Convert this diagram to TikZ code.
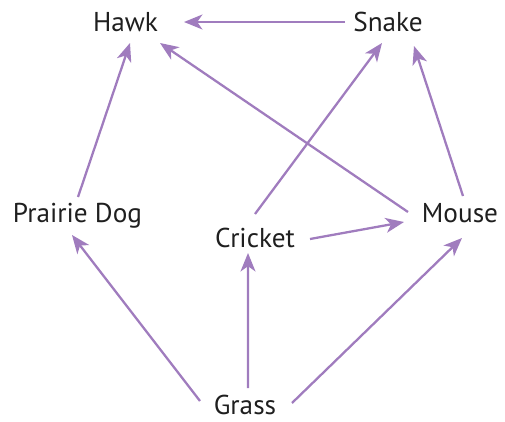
\documentclass[tikz,border=0pt]{standalone}
\usepackage{fontspec}
\setmainfont{PT Sans}
\usetikzlibrary{calc, arrows.meta, positioning}
\definecolor{foodweb}{HTML}{A07CBE}
\begin{document}
\begin{tikzpicture}[
    animal/.style={
      inner sep=0pt,
      text height=0.38cm,
      text depth=0pt,
      text=black!88,
      font=\fontsize{15.5}{18}\selectfont
    },
    arrow/.style={
      -{Stealth[length=10.5pt, width=8.5pt, inset=3pt]},
      line width=1.3pt,
      draw=foodweb
    }
  ]
  \useasboundingbox (0,0) rectangle (10.1,8.42);

  % Nodes
  \node[animal] (hawk) at (2.51,7.98) {Hawk};
  \node[animal] (snake) at (7.76,7.98) {Snake};
  \node[animal] (prairie) at (1.55,4.16) {Prairie Dog};
  \node[animal] (cricket) at (5.10,3.66) {Cricket};
  \node[animal] (mouse) at (9.20,4.16) {Mouse};
  \node[animal] (grass) at (4.90,0.32) {Grass};

  % Arrows
  \draw[arrow] ($(snake)+(-0.86,0)$) -- ($(hawk)+(1.17,0)$);
  \draw[arrow] ($(prairie)+(0.01,0.32)$) -- ($(hawk)+(0.09,-0.42)$);
  \draw[arrow] ($(mouse)+(-1.04,0.02)$) -- ($(hawk)+(0.69,-0.42)$);
  \draw[arrow] ($(cricket)+(0,0.48)$) -- ($(snake)+(-0.12,-0.42)$);
  \draw[arrow] ($(mouse)+(0.06,0.34)$) -- ($(snake)+(0.52,-0.48)$);
  \draw[arrow] ($(cricket)+(1.10,-0.02)$) -- ($(mouse)+(-1.12,-0.18)$);
  \draw[arrow] ($(grass)+(-0.90,0.08)$) -- ($(prairie)+(-0.11,-0.44)$);
  \draw[arrow] ($(grass)+(0.06,0.34)$) -- ($(cricket)+(-0.14,-0.30)$);
  \draw[arrow] ($(grass)+(0.94,0.04)$) -- ($(mouse)+(0.04,-0.50)$);
\end{tikzpicture}
\end{document}
